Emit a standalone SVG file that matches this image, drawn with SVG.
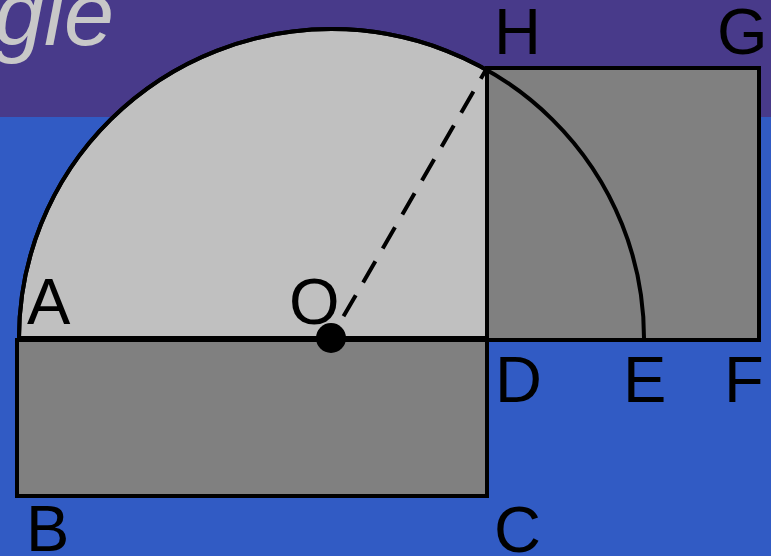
<svg xmlns="http://www.w3.org/2000/svg" width="771" height="556" viewBox="0 0 771 556">
<style>
.lbl{font-family:"Liberation Sans",Arial,sans-serif;font-size:65px;fill:#000}
.ttl{font-family:"Liberation Sans",Arial,sans-serif;font-size:90px;font-style:italic;fill:#c8c8c8}
.box{fill:#808080;stroke:#000;stroke-width:4}
.ln{fill:none;stroke:#000;stroke-width:4}
</style>
<rect x="0" y="0" width="771" height="556" fill="#315bc4"/>
<rect x="0" y="0" width="771" height="117" fill="#483a8a"/>
<text class="ttl" x="114" y="45" text-anchor="end">gle</text>
<g id="semicircle">
<path d="M19,338 A312.5,309 0 0 1 644,338 Z" fill="#c0c0c0" stroke="#000" stroke-width="4"/>
</g>
<g id="rect-ABCD">
<rect class="box" x="17" y="340" width="470" height="156"/>
</g>
<g id="square-DFGH">
<rect class="box" x="487" y="68" width="272" height="272"/>
</g>
<g id="connectors">
<path class="ln" d="M19,338 A312.5,309 0 0 1 644,338"/>
<line x1="331" y1="338" x2="487" y2="68" stroke="#000" stroke-width="4" stroke-dasharray="24.5,14.7" stroke-dashoffset="14.2"/>
</g>
<g id="point-O">
<circle cx="331" cy="338" r="15" fill="#000"/>
</g>
<g id="labels">
<text class="lbl" x="494" y="54">H</text>
<text class="lbl" x="717" y="54">G</text>
<text class="lbl" x="27" y="324">A</text>
<text class="lbl" x="289" y="324">O</text>
<text class="lbl" x="495" y="402">D</text>
<text class="lbl" x="623" y="402">E</text>
<text class="lbl" x="724" y="402">F</text>
<text class="lbl" x="26" y="551">B</text>
<text class="lbl" x="494" y="552">C</text>
</g>
</svg>
